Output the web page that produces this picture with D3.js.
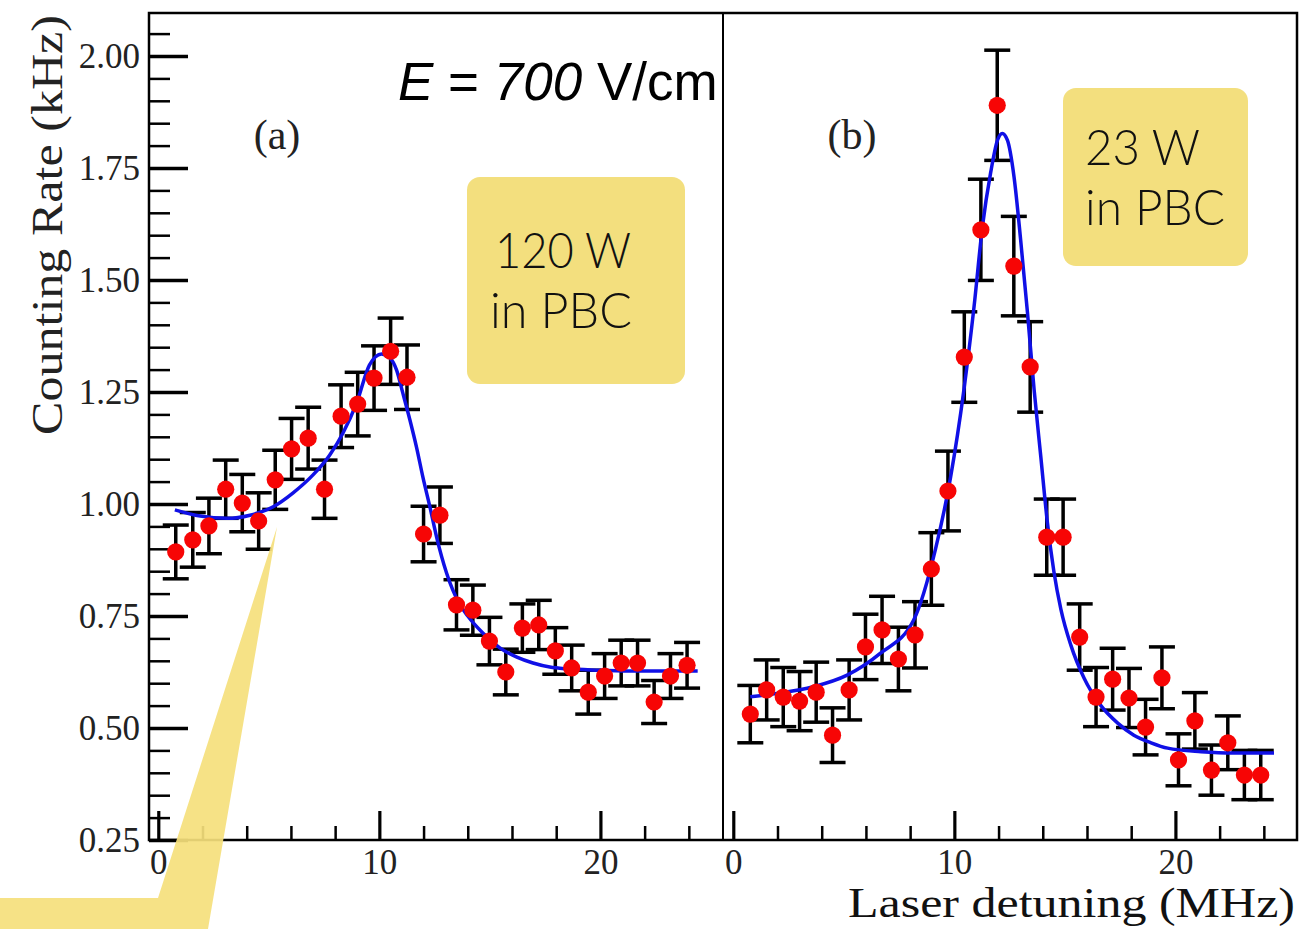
<!DOCTYPE html>
<html>
<head>
<meta charset="utf-8">
<script src="https://cdn.jsdelivr.net/npm/d3@7"></script>
<style>
  html, body { margin: 0; padding: 0; background: #fff; }
  svg { display: block; }
</style>
</head>
<body>
<div id="wrapper"></div>
<script>
// panel (a): 120 W in PBC
const detuningA = [0.79, 1.56, 2.29, 3.05, 3.8, 4.54, 5.29, 6.03, 6.78, 7.52, 8.27, 9.02, 9.76, 10.51, 11.25, 12.0,
    12.74, 13.49, 14.23, 14.98, 15.72, 16.47, 17.21, 17.96, 18.7, 19.45, 20.19, 20.94, 21.68, 22.43, 23.17, 23.92];
const rateA = [0.893, 0.92, 0.951, 1.033, 1.002, 0.962, 1.054, 1.123, 1.147, 1.033, 1.196, 1.223, 1.281, 1.341, 1.283, 0.933,
    0.975, 0.775, 0.763, 0.694, 0.625, 0.723, 0.73, 0.672, 0.634, 0.58, 0.616, 0.645, 0.645, 0.558, 0.616, 0.64];
const errA = [0.060, 0.061, 0.062, 0.065, 0.064, 0.063, 0.066, 0.068, 0.069, 0.065, 0.070, 0.071, 0.072, 0.074, 0.072, 0.062,
    0.063, 0.056, 0.056, 0.053, 0.051, 0.054, 0.055, 0.052, 0.051, 0.049, 0.050, 0.051, 0.051, 0.048, 0.050, 0.051];
const fitDetuningA = [0.75, 1.9, 3.1, 4.15, 5.2, 6.1, 7.0, 7.75, 8.35, 8.97, 9.55, 10.1, 10.48, 10.78, 11.06, 11.38, 11.68,
    11.97, 12.29, 12.59, 13.04, 13.6, 14.0, 14.68, 15.45, 16.22, 16.95, 17.71, 18.48, 20.0, 21.5, 23.0, 24.4];
const fitRateA = [0.987, 0.973, 0.968, 0.975, 0.994, 1.025, 1.065, 1.109, 1.158, 1.225, 1.31, 1.335, 1.326, 1.299, 1.248, 1.188, 1.127,
    1.06, 0.993, 0.926, 0.846, 0.779, 0.75, 0.712, 0.679, 0.658, 0.645, 0.636, 0.632, 0.629, 0.627, 0.627, 0.627];

// panel (b): 23 W in PBC
const detuningB = [0.77, 1.51, 2.26, 3.0, 3.75, 4.49, 5.24, 5.98, 6.73, 7.47, 8.22, 8.96, 9.71, 10.45, 11.2, 11.94,
    12.69, 13.43, 14.18, 14.92, 15.67, 16.41, 17.16, 17.9, 18.65, 19.39, 20.14, 20.88, 21.63, 22.37, 23.12, 23.86];
const rateB = [0.531, 0.585, 0.569, 0.56, 0.58, 0.484, 0.585, 0.681, 0.719, 0.654, 0.708, 0.855, 1.029, 1.328, 1.612, 1.89,
    1.531, 1.306, 0.926, 0.926, 0.703, 0.569, 0.609, 0.567, 0.502, 0.612, 0.429, 0.516, 0.406, 0.467, 0.395, 0.395];
const errB = [0.064, 0.067, 0.066, 0.066, 0.067, 0.061, 0.067, 0.073, 0.075, 0.071, 0.074, 0.081, 0.089, 0.101, 0.113, 0.123,
    0.111, 0.101, 0.085, 0.085, 0.074, 0.066, 0.069, 0.066, 0.062, 0.069, 0.058, 0.063, 0.056, 0.060, 0.055, 0.055];
const fitDetuningB = [0.77, 2.13, 3.62, 5.15, 6.66, 8.16, 9.15, 9.83, 10.43, 10.89, 11.27, 11.64, 11.95, 12.17, 12.4, 12.7,
    13.0, 13.31, 13.61, 13.91, 14.21, 14.5, 14.82, 15.27, 15.86, 16.63, 17.39, 18.12, 18.9, 19.65, 21.16, 22.65, 24.46];
const fitRateB = [0.57, 0.578, 0.592, 0.618, 0.667, 0.741, 0.9, 1.06, 1.254, 1.44, 1.619, 1.739, 1.812, 1.827, 1.812, 1.73,
    1.589, 1.426, 1.254, 1.106, 0.958, 0.85, 0.765, 0.685, 0.612, 0.55, 0.511, 0.484, 0.467, 0.455, 0.447, 0.444, 0.444];

const yMajorTicks = [0.25, 0.5, 0.75, 1.0, 1.25, 1.5, 1.75, 2.0];
const xMajorTicks = [0, 10, 20];
const xMinorTicks = [2, 4, 6, 8, 12, 14, 16, 18, 22, 24];

function buildPlot() {
    var dimensions = {
        width: 1311,
        height: 929,
        top: 13,
        bottom: 840,
        panels: [
            { left: 149, right: 722, label: "(a)", labelX: 277, x: detuningA, y: rateA, err: errA, fx: fitDetuningA, fy: fitRateA },
            { left: 724, right: 1297, label: "(b)", labelX: 852, x: detuningB, y: rateB, err: errB, fx: fitDetuningB, fy: fitRateB },
        ],
    };

    const wrapper = d3.select("#wrapper")
        .append("svg")
        .attr("width", dimensions.width)
        .attr("height", dimensions.height);

    const yScale = d3.scaleLinear()
        .domain([0.25, 0.25 + (dimensions.bottom - dimensions.top) / 448])
        .range([dimensions.bottom, dimensions.top]);

    const serif = "'Liberation Serif', 'Times New Roman', serif";

    dimensions.panels.forEach((p, i) => {
        const xScale = d3.scaleLinear()
            .domain([-0.42, 25.5])
            .range([p.left, p.right]);

        const bounds = wrapper.append("g");

        // x ticks (inside the frame)
        const xMinor = bounds.append("g")
            .attr("transform", `translate(0,${dimensions.bottom})`)
            .call(d3.axisBottom(xScale).tickValues(xMinorTicks).tickSize(-14).tickFormat(""));
        xMinor.selectAll("line").attr("stroke", "#000").attr("stroke-width", 2.5);
        xMinor.select(".domain").remove();

        const xMajor = bounds.append("g")
            .attr("transform", `translate(0,${dimensions.bottom})`)
            .call(d3.axisBottom(xScale).tickValues(xMajorTicks).tickSize(-29).tickPadding(9).tickFormat(d3.format("d")));
        xMajor.selectAll("line").attr("stroke", "#000").attr("stroke-width", 3.2);
        xMajor.select(".domain").remove();
        xMajor.selectAll("text")
            .attr("fill", "#222")
            .style("font-family", serif)
            .style("font-size", "35px");

        // y ticks only on the first panel
        if (i === 0) {
            const yMinor = bounds.append("g")
                .attr("transform", `translate(${p.left},0)`)
                .call(d3.axisLeft(yScale).tickValues(d3.range(0.25, 2.09, 0.05)).tickSize(-21).tickFormat(""));
            yMinor.selectAll("line").attr("stroke", "#000").attr("stroke-width", 2.5);
            yMinor.select(".domain").remove();

            const yMajor = bounds.append("g")
                .attr("transform", `translate(${p.left},0)`)
                .call(d3.axisLeft(yScale).tickValues(yMajorTicks).tickSize(-39).tickPadding(9).tickFormat(d3.format(".2f")));
            yMajor.selectAll("line").attr("stroke", "#000").attr("stroke-width", 3.5);
            yMajor.select(".domain").remove();
            yMajor.selectAll("text")
                .attr("fill", "#222")
                .style("font-family", serif)
                .style("font-size", "35px");
        }

        // error bars
        const idx = d3.range(p.x.length);
        const bars = bounds.append("g").selectAll("g")
            .data(idx)
            .join("g")
            .attr("stroke", "#000")
            .attr("stroke-width", 3.5);
        bars.append("line")
            .attr("x1", (d) => xScale(p.x[d]))
            .attr("x2", (d) => xScale(p.x[d]))
            .attr("y1", (d) => yScale(p.y[d] - p.err[d]))
            .attr("y2", (d) => yScale(p.y[d] + p.err[d]));
        bars.append("line")
            .attr("x1", (d) => xScale(p.x[d]) - 13)
            .attr("x2", (d) => xScale(p.x[d]) + 13)
            .attr("y1", (d) => yScale(p.y[d] + p.err[d]))
            .attr("y2", (d) => yScale(p.y[d] + p.err[d]));
        bars.append("line")
            .attr("x1", (d) => xScale(p.x[d]) - 13)
            .attr("x2", (d) => xScale(p.x[d]) + 13)
            .attr("y1", (d) => yScale(p.y[d] - p.err[d]))
            .attr("y2", (d) => yScale(p.y[d] - p.err[d]));

        // fitted line
        const lineGenerator = d3.line()
            .x((d) => xScale(p.fx[d]))
            .y((d) => yScale(p.fy[d]))
            .curve(d3.curveMonotoneX);
        bounds.append("path")
            .attr("d", lineGenerator(d3.range(p.fx.length)))
            .attr("fill", "none")
            .attr("stroke", "#1010e6")
            .attr("stroke-width", 3.5);

        // points
        bounds.append("g").selectAll("circle")
            .data(idx)
            .join("circle")
            .attr("cx", (d) => xScale(p.x[d]))
            .attr("cy", (d) => yScale(p.y[d]))
            .attr("r", 8.6)
            .attr("fill", "#f70505");

        bounds.append("text")
            .attr("x", p.labelX)
            .attr("y", 149)
            .attr("text-anchor", "middle")
            .style("font-family", serif)
            .style("font-size", "42px")
            .attr("fill", "#222")
            .text(p.label);
    });

    // frame
    wrapper.append("rect")
        .attr("x", 149)
        .attr("y", dimensions.top)
        .attr("width", 1297 - 149)
        .attr("height", dimensions.bottom - dimensions.top)
        .attr("fill", "none")
        .attr("stroke", "#000")
        .attr("stroke-width", 2.5);
    wrapper.append("line")
        .attr("x1", 723).attr("x2", 723)
        .attr("y1", dimensions.top).attr("y2", dimensions.bottom)
        .attr("stroke", "#000")
        .attr("stroke-width", 2);

    // axis titles
    wrapper.append("text")
        .attr("transform", "translate(62,225) rotate(-90)")
        .attr("text-anchor", "middle")
        .attr("textLength", 420)
        .attr("lengthAdjust", "spacingAndGlyphs")
        .style("font-family", serif)
        .style("font-size", "45px")
        .attr("fill", "#222")
        .text("Counting Rate (kHz)");
    wrapper.append("text")
        .attr("x", 1295)
        .attr("y", 917)
        .attr("text-anchor", "end")
        .attr("textLength", 447)
        .attr("lengthAdjust", "spacingAndGlyphs")
        .style("font-family", serif)
        .style("font-size", "43px")
        .attr("fill", "#111")
        .text("Laser detuning (MHz)");

    // field label
    const eLabel = wrapper.append("text")
        .attr("x", 398)
        .attr("y", 100)
        .style("font-family", "'Liberation Sans', Arial, sans-serif")
        .style("font-size", "53px")
        .attr("fill", "#000");
    eLabel.append("tspan").style("font-style", "italic").text("E");
    eLabel.append("tspan").text(" = ");
    eLabel.append("tspan").style("font-style", "italic").text("700");
    eLabel.append("tspan").text(" V/cm");

    // yellow annotation boxes
    const boxes = [
        { x: 467, y: 177, w: 218, h: 207, lines: ["120 W", "in PBC"], tx: [495, 490], ty: [268, 328], len: [136, 142] },
        { x: 1063, y: 88, w: 185, h: 178, lines: ["23 W", "in PBC"], tx: [1085, 1085], ty: [165, 225], len: [115, 140] },
    ];
    boxes.forEach((b) => {
        wrapper.append("rect")
            .attr("x", b.x).attr("y", b.y)
            .attr("width", b.w).attr("height", b.h)
            .attr("rx", 13)
            .attr("fill", "#f3df7e");
        b.lines.forEach((t, j) => {
            wrapper.append("text")
                .attr("x", b.tx[j])
                .attr("y", b.ty[j])
                .attr("textLength", b.len[j])
                .attr("lengthAdjust", "spacingAndGlyphs")
                .style("font-family", "Lato, 'Open Sans', sans-serif")
                .style("font-weight", 300)
                .style("font-size", "49px")
                .attr("fill", "#111")
                .text(t);
        });
    });

    // callout pointer
    wrapper.append("path")
        .attr("d", "M0,898 L158,898 L277,527 L208,929 L0,929 Z")
        .attr("fill", "#f5e07c")
        .attr("opacity", 0.92);
}

buildPlot();
</script>
</body>
</html>
